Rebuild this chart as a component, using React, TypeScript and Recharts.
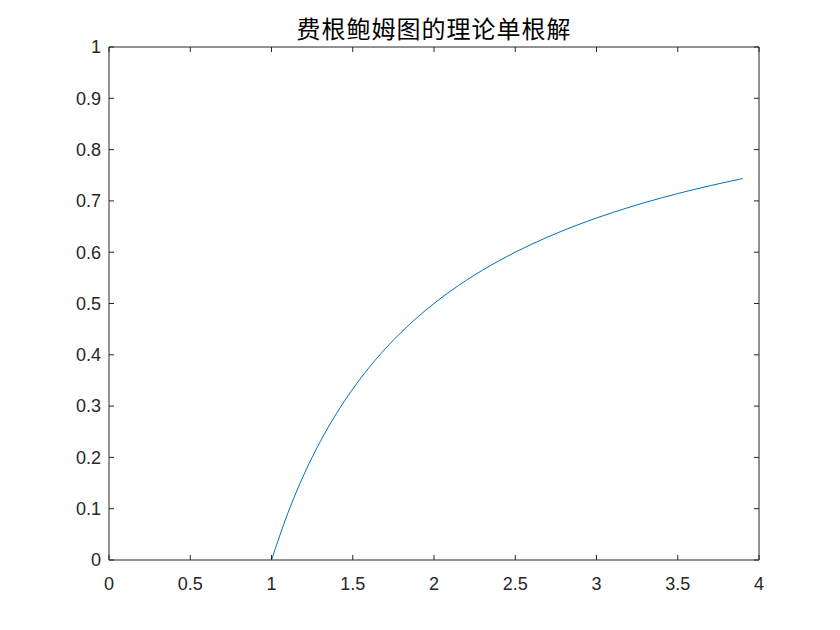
import { Line, LineChart, XAxis, YAxis } from "recharts";

// r values and the single (theoretical) root
const rValues = [
  1.0, 1.1, 1.2, 1.3, 1.4, 1.5, 1.6, 1.7, 1.8, 1.9, 2.0, 2.1, 2.2, 2.3, 2.4,
  2.5, 2.6, 2.7, 2.8, 2.9, 3.0, 3.1, 3.2, 3.3, 3.4, 3.5, 3.6, 3.7, 3.8, 3.9,
];
const rootValues = [
  0, 0.0909, 0.1667, 0.2308, 0.2857, 0.3333, 0.375, 0.4118, 0.4444, 0.4737,
  0.5, 0.5238, 0.5455, 0.5652, 0.5833, 0.6, 0.6154, 0.6296, 0.6429, 0.6552,
  0.6667, 0.6774, 0.6875, 0.697, 0.7059, 0.7143, 0.7222, 0.7297, 0.7368,
  0.7436,
];
const xTicks = [0, 0.5, 1, 1.5, 2, 2.5, 3, 3.5, 4];
const yTicks = [0, 0.1, 0.2, 0.3, 0.4, 0.5, 0.6, 0.7, 0.8, 0.9, 1];
const title = "费根鲍姆图的理论单根解";

const data = rValues.map((r, i) => ({ r, y: rootValues[i] }));

const axisColor = "#262626";
const tickFont = {
  fontSize: 18,
  fill: axisColor,
  fontFamily: "'Liberation Sans', Arial, sans-serif",
};
// top/right box edges: keep the inward tick marks, no labels
const noLabel = () => <g />;

export default function App() {
  return (
    <div
      style={{
        position: "absolute",
        left: 0,
        top: 0,
        width: 840,
        height: 630,
        background: "#fff",
      }}
    >
      <div
        style={{
          position: "absolute",
          left: 109,
          width: 650,
          top: 12,
          textAlign: "center",
          fontSize: 24,
          letterSpacing: 1,
          lineHeight: "32px",
          color: "#000",
          fontFamily: "'Noto Sans CJK SC', sans-serif",
        }}
      >
        {title}
      </div>
      <LineChart
        width={840}
        height={630}
        data={data}
        margin={{ top: 46, right: 80, bottom: 0, left: 0 }}
      >
        <XAxis
          xAxisId="bottom"
          dataKey="r"
          type="number"
          domain={[0, 4]}
          ticks={xTicks}
          height={70}
          tickSize={-5}
          tickMargin={22}
          tick={tickFont}
          stroke={axisColor}
        />
        <XAxis
          xAxisId="top"
          orientation="top"
          dataKey="r"
          type="number"
          domain={[0, 4]}
          ticks={xTicks}
          height={1}
          tickSize={-5}
          tick={noLabel}
          stroke={axisColor}
        />
        <YAxis
          yAxisId="left"
          type="number"
          domain={[0, 1]}
          ticks={yTicks}
          width={109}
          tickSize={-5}
          tickMargin={13}
          tick={tickFont}
          stroke={axisColor}
        />
        <YAxis
          yAxisId="right"
          orientation="right"
          type="number"
          domain={[0, 1]}
          ticks={yTicks}
          width={1}
          tickSize={-5}
          tick={noLabel}
          stroke={axisColor}
        />
        <Line
          xAxisId="bottom"
          yAxisId="left"
          type="monotone"
          dataKey="y"
          stroke="#0072BD"
          strokeWidth={1}
          dot={false}
          isAnimationActive={false}
        />
        <Line
          xAxisId="top"
          yAxisId="right"
          type="monotone"
          dataKey="y"
          stroke="none"
          dot={false}
          activeDot={false}
          legendType="none"
          isAnimationActive={false}
        />
      </LineChart>
    </div>
  );
}
